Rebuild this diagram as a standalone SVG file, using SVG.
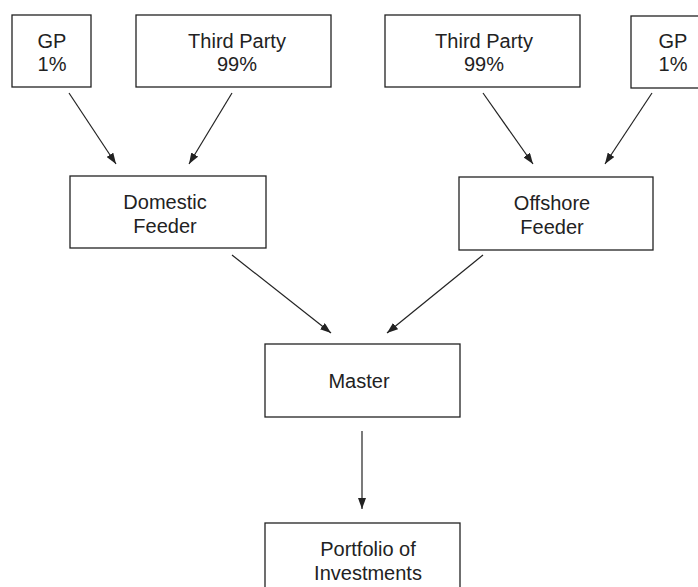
<svg xmlns="http://www.w3.org/2000/svg" width="698" height="587" viewBox="0 0 698 587">
<style>
.box{fill:#fff;stroke:#222;stroke-width:1.3}
.t{font-family:"Liberation Sans",Arial,sans-serif;font-size:20px;fill:#222;text-anchor:middle}
.c{stroke:#222;stroke-width:1.2;fill:none}
</style>
<defs>
<marker id="ah" markerWidth="12" markerHeight="8" refX="11" refY="4" orient="auto" markerUnits="userSpaceOnUse">
<path d="M0,0 L11,4 L0,8 Z" fill="#222"/>
</marker>
</defs>
<rect width="698" height="587" fill="#fff"/>
<g id="gp-left"><rect class="box" x="12" y="15" width="79" height="72"/><text class="t" x="52" y="48">GP</text><text class="t" x="52" y="71">1%</text></g>
<g id="tp-left"><rect class="box" x="136" y="15" width="195" height="72"/><text class="t" x="237" y="48">Third Party</text><text class="t" x="237" y="71">99%</text></g>
<g id="tp-right"><rect class="box" x="385" y="15" width="195" height="72"/><text class="t" x="484" y="48">Third Party</text><text class="t" x="484" y="71">99%</text></g>
<g id="gp-right"><rect class="box" x="631" y="16" width="84" height="72"/><text class="t" x="673" y="48">GP</text><text class="t" x="673" y="71">1%</text></g>
<g id="domestic"><rect class="box" x="70" y="176" width="196" height="72"/><text class="t" x="165" y="209">Domestic</text><text class="t" x="165" y="233">Feeder</text></g>
<g id="offshore"><rect class="box" x="459" y="177" width="194" height="73"/><text class="t" x="552" y="210">Offshore</text><text class="t" x="552" y="234">Feeder</text></g>
<g id="master"><rect class="box" x="265" y="344" width="195" height="73"/><text class="t" x="359" y="388">Master</text></g>
<g id="portfolio"><rect class="box" x="265" y="523" width="195" height="80"/><text class="t" x="368" y="556">Portfolio of</text><text class="t" x="368" y="580">Investments</text></g>
<g id="connectors">
<line class="c" x1="69" y1="93" x2="116" y2="164" marker-end="url(#ah)"/>
<line class="c" x1="232" y1="93" x2="189" y2="164" marker-end="url(#ah)"/>
<line class="c" x1="483" y1="93" x2="533" y2="164" marker-end="url(#ah)"/>
<line class="c" x1="652" y1="93" x2="605" y2="164" marker-end="url(#ah)"/>
<line class="c" x1="232" y1="255" x2="331" y2="333" marker-end="url(#ah)"/>
<line class="c" x1="483" y1="255" x2="387" y2="333" marker-end="url(#ah)"/>
<line class="c" x1="362" y1="431" x2="362" y2="509" marker-end="url(#ah)"/>
</g>
</svg>
